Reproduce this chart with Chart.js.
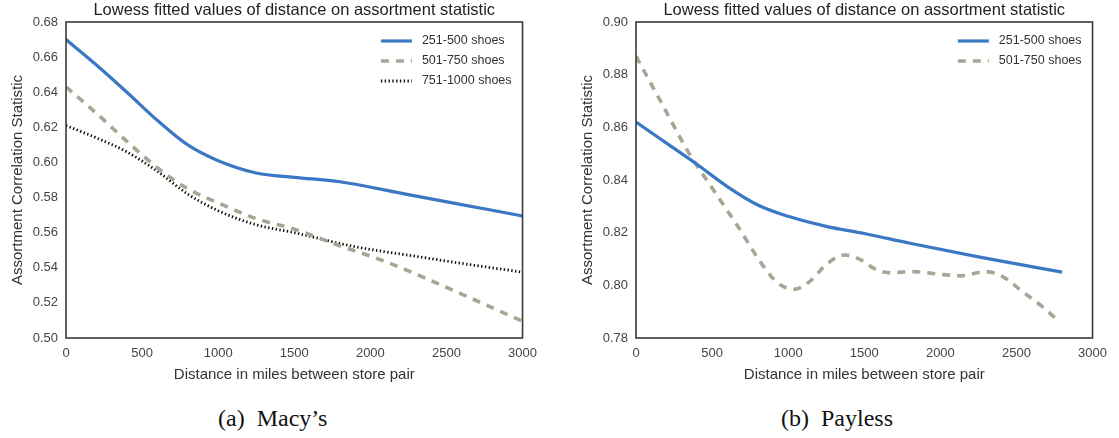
<!DOCTYPE html>
<html>
<head>
<meta charset="utf-8">
<script src="https://cdn.jsdelivr.net/npm/chart.js@4"></script>
<style>
  body { margin: 0; background: #fff; width: 1119px; height: 438px; position: relative; overflow: hidden; }
  .panel { position: absolute; top: 0; }
  .caption { position: absolute; top: 405px; font-family: "Liberation Serif", serif; font-size: 24px; color: #111; white-space: nowrap; }
</style>
</head>
<body>
<div class="panel" style="left:0px"><canvas id="macysChart" width="545" height="390"></canvas></div>
<div class="panel" style="left:570px"><canvas id="paylessChart" width="545" height="390"></canvas></div>
<div class="caption" style="left:218px">(a)&nbsp; Macy’s</div>
<div class="caption" style="left:781px">(b)&nbsp; Payless</div>

<script>
// shared text
const chartTitle = 'Lowess fitted values of distance on assortment statistic';
const xTitle = 'Distance in miles between store pair';
const yTitle = 'Assortment Correlation Statistic';
const seriesLabels = ['251-500 shoes', '501-750 shoes', '751-1000 shoes'];
const xTicks = [0, 500, 1000, 1500, 2000, 2500, 3000];

// (a) Macy's
const macysYTicks = [0.50, 0.52, 0.54, 0.56, 0.58, 0.60, 0.62, 0.64, 0.66, 0.68];
const macys251Dist = [0, 200, 400, 600, 800, 1000, 1250, 1500, 1800, 2200, 2600, 3000];
const macys251 = [0.670, 0.6555, 0.640, 0.624, 0.610, 0.601, 0.594, 0.5915, 0.589, 0.5825, 0.576, 0.5695];
const macys501Dist = [0, 200, 400, 600, 800, 1000, 1250, 1500, 1800, 2100, 2600, 3000];
const macys501 = [0.643, 0.628, 0.612, 0.597, 0.585, 0.577, 0.568, 0.562, 0.5525, 0.5435, 0.525, 0.5095];
const macys751Dist = [0, 200, 400, 600, 800, 1000, 1250, 1500, 1900, 2300, 2600, 3000];
const macys751 = [0.621, 0.614, 0.606, 0.595, 0.582, 0.5725, 0.5645, 0.560, 0.552, 0.5465, 0.5425, 0.5375];

// (b) Payless
const paylessYTicks = [0.78, 0.80, 0.82, 0.84, 0.86, 0.88, 0.90];
const payless251Dist = [0, 200, 400, 600, 800, 1000, 1250, 1500, 1800, 2250, 2800];
const payless251 = [0.862, 0.854, 0.846, 0.8375, 0.8305, 0.8262, 0.8224, 0.8197, 0.816, 0.8108, 0.805];
const payless501Dist = [0, 170, 350, 500, 670, 840, 930, 1040, 1140, 1260, 1370, 1500, 1560, 1670, 1820, 2000, 2130, 2300, 2410, 2540, 2670, 2770];
const payless501 = [0.887, 0.869, 0.850, 0.837, 0.8223, 0.807, 0.801, 0.7985, 0.8014, 0.8084, 0.8115, 0.809, 0.8065, 0.8048, 0.8052, 0.8042, 0.8036, 0.8052, 0.8033, 0.7976, 0.7919, 0.7868];

const styles = [
  { borderColor: '#3b78c4', borderWidth: 3.2, borderDash: [] },
  { borderColor: '#a9a595', borderWidth: 3.6, borderDash: [8, 7] },
  { borderColor: '#111111', borderWidth: 2.8, borderDash: [1.4, 2.4] }
];

function toPoints(xs, ys) {
  return xs.map((x, i) => ({ x: x, y: ys[i] }));
}

// frame round the plot area, like matplotlib spines
const framePlugin = {
  id: 'frame',
  afterDraw(chart) {
    const { ctx, chartArea: a } = chart;
    ctx.save();
    ctx.strokeStyle = '#3a3a3a';
    ctx.lineWidth = 1.6;
    ctx.strokeRect(a.left, a.top, a.right - a.left, a.bottom - a.top);
    ctx.restore();
  }
};

// legend inside the top right corner, with the dash style of each line
const insideLegend = {
  id: 'insideLegend',
  afterDraw(chart) {
    const { ctx, chartArea: a } = chart;
    const sets = chart.data.datasets;
    ctx.save();
    ctx.font = '12.5px "Liberation Sans", Arial, sans-serif';
    const maxW = Math.max(...sets.map(d => ctx.measureText(d.label).width));
    const textX = a.right - 11 - maxW;
    sets.forEach((d, i) => {
      const y = a.top + 19 + i * 20;
      ctx.beginPath();
      ctx.strokeStyle = d.borderColor;
      ctx.lineWidth = d.borderWidth;
      ctx.setLineDash(d.borderDash);
      ctx.moveTo(textX - 41, y);
      ctx.lineTo(textX - 10, y);
      ctx.stroke();
      ctx.setLineDash([]);
      ctx.fillStyle = '#333';
      ctx.textBaseline = 'middle';
      ctx.fillText(d.label, textX, y);
    });
    ctx.restore();
  }
};

function drawChart(id, series, yMin, yMax, yTicks) {
  const ctx = document.getElementById(id);
  const family = '"Liberation Sans", Arial, sans-serif';
  return new Chart(ctx, {
    type: 'line',
    data: {
      datasets: series.map((s, i) => ({
        label: seriesLabels[i],
        data: toPoints(s[0], s[1]),
        borderColor: styles[i].borderColor,
        borderWidth: styles[i].borderWidth,
        borderDash: styles[i].borderDash,
        pointRadius: 0,
        fill: false,
        cubicInterpolationMode: 'monotone'
      }))
    },
    options: {
      responsive: false,
      animation: false,
      layout: { padding: { left: 0, right: 17, top: 0, bottom: 0 } },
      plugins: {
        legend: { display: false },
        tooltip: { enabled: false }
      },
      scales: {
        // top axis only carries the title, so it is centred over the plot
        xTop: {
          type: 'linear',
          position: 'top',
          min: 0,
          max: 3000,
          grid: { display: false, drawTicks: false },
          border: { display: false },
          ticks: { display: false },
          title: { display: true, text: chartTitle, color: '#222', font: { family: family, size: 16.5 }, padding: { top: 1, bottom: 0 } },
          afterFit: s => { s.height = 22; }
        },
        x: {
          type: 'linear',
          min: 0,
          max: 3000,
          grid: { display: false, drawTicks: false },
          border: { display: false },
          afterBuildTicks: axis => { axis.ticks = xTicks.map(v => ({ value: v })); },
          ticks: { color: '#444', font: { family: family, size: 13 }, padding: 8, maxRotation: 0, callback: v => String(v) },
          title: { display: true, text: xTitle, color: '#333', font: { family: family, size: 15 }, padding: { top: 0, bottom: 6 } },
          afterFit: s => { s.height = 52; }
        },
        y: {
          min: yMin,
          max: yMax,
          grid: { display: false, drawTicks: false },
          border: { display: false },
          afterBuildTicks: axis => { axis.ticks = yTicks.map(v => ({ value: v })); },
          ticks: { color: '#444', font: { family: family, size: 13 }, padding: 8, callback: v => v.toFixed(2) },
          title: { display: true, text: yTitle, color: '#333', font: { family: family, size: 15 }, padding: { top: 9, bottom: 0 } },
          afterFit: s => { s.width = 66; }
        }
      }
    },
    plugins: [framePlugin, insideLegend]
  });
}

drawChart('macysChart', [
  [macys251Dist, macys251],
  [macys501Dist, macys501],
  [macys751Dist, macys751]
], 0.50, 0.68, macysYTicks);

drawChart('paylessChart', [
  [payless251Dist, payless251],
  [payless501Dist, payless501]
], 0.78, 0.90, paylessYTicks);
</script>
</body>
</html>
